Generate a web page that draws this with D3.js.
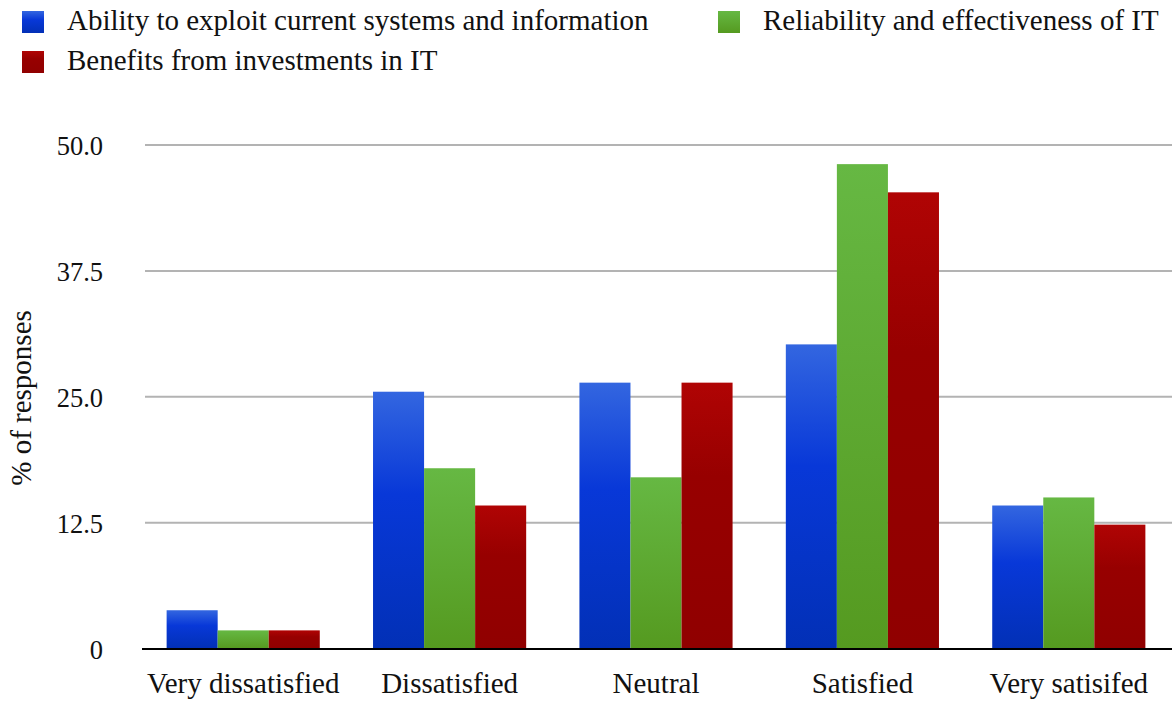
<!DOCTYPE html>
<html>
<head>
<meta charset="utf-8">
<script src="https://cdn.jsdelivr.net/npm/d3@7"></script>
<style>
  html, body { margin: 0; padding: 0; background: #fff; }
  svg { display: block; font-family: "Liberation Serif", "DejaVu Serif", serif; }
</style>
</head>
<body>
<svg id="chart" width="1172" height="702"></svg>
<script>
// Survey responses: satisfaction with IT (% of responses)
const categories = ["Very dissatisfied", "Dissatisfied", "Neutral", "Satisfied", "Very satisifed"];
const seriesNames = [
  "Ability to exploit current systems and information",
  "Reliability and effectiveness of IT",
  "Benefits from investments in IT"
];
const abilityValues     = [3.8, 25.5, 26.4, 30.2, 14.2];
const reliabilityValues = [1.8, 17.9, 17.0, 48.1, 15.0];
const benefitsValues    = [1.8, 14.2, 26.4, 45.3, 12.3];
const yTicks = [0, 12.5, 25, 37.5, 50];
const yTickLabels = ["0", "12.5", "25.0", "37.5", "50.0"];
const yTitle = "% of responses";

const seriesValues = [abilityValues, reliabilityValues, benefitsValues];
const seriesKeys = ["blue", "green", "red"];

const svg = d3.select("#chart");

// Vertical gradients per series (light top, deeper bottom)
const defs = svg.append("defs");
const gradients = {
  blue:  [["0%", "#3366e0"], ["40%", "#0838d8"], ["100%", "#0230b6"]],
  green: [["0%", "#66b843"], ["100%", "#559a20"]],
  red:   [["0%", "#b00404"], ["35%", "#970000"], ["100%", "#900000"]]
};
Object.entries(gradients).forEach(([key, stops]) => {
  const g = defs.append("linearGradient")
    .attr("id", "grad-" + key)
    .attr("x1", 0).attr("y1", 0).attr("x2", 0).attr("y2", 1);
  stops.forEach(([off, col]) => g.append("stop").attr("offset", off).attr("stop-color", col));
});

const plotLeft = 140, plotRight = 1172, plotTop = 145, plotBottom = 648.5;
const textColor = "#111";

const x = d3.scaleBand().domain(categories).range([plotLeft, plotRight]).paddingInner(0).paddingOuter(0);
const inner = d3.scaleBand().domain(d3.range(3))
  .range([x.bandwidth() * 0.129, x.bandwidth() * (1 - 0.129)]).padding(0);
const y = d3.scaleLinear().domain([0, 50]).range([plotBottom, plotTop]);

// Gridlines
svg.append("g").selectAll("line")
  .data(yTicks.filter(t => t > 0))
  .join("line")
  .attr("x1", 145).attr("x2", plotRight)
  .attr("y1", d => y(d)).attr("y2", d => y(d))
  .attr("stroke", "#b3b3b3").attr("stroke-width", 2);

// Y tick labels
const yAxis = d3.axisLeft(y).tickValues(yTicks).tickSize(0).tickPadding(0)
  .tickFormat((d, i) => yTickLabels[i]);
const yAxisG = svg.append("g").attr("transform", "translate(103,0)").call(yAxis);
yAxisG.select(".domain").remove();
yAxisG.selectAll("text")
  .attr("font-size", 26.5).attr("fill", textColor)
  .attr("font-family", "Liberation Serif, serif")
  .attr("dy", "0.36em");

// Bars
const groups = svg.append("g").selectAll("g")
  .data(categories)
  .join("g")
  .attr("transform", d => `translate(${x(d)},0)`);
groups.selectAll("rect")
  .data((c, ci) => seriesValues.map((vals, si) => ({ si, v: vals[ci] })))
  .join("rect")
  .attr("x", d => inner(d.si))
  .attr("width", inner.bandwidth())
  .attr("y", d => y(d.v))
  .attr("height", d => y(0) - y(d.v))
  .attr("fill", d => `url(#grad-${seriesKeys[d.si]})`);

// Baseline
svg.append("line")
  .attr("x1", 142).attr("x2", plotRight)
  .attr("y1", y(0) + 0.5).attr("y2", y(0) + 0.5)
  .attr("stroke", "#000").attr("stroke-width", 2.2);

// X axis labels
const xAxis = d3.axisBottom(x).tickSize(0).tickPadding(0);
const xAxisG = svg.append("g").attr("transform", "translate(0,693)").call(xAxis);
xAxisG.select(".domain").remove();
xAxisG.selectAll("text")
  .attr("font-size", 29).attr("fill", textColor)
  .attr("font-family", "Liberation Serif, serif")
  .attr("y", 0).attr("dy", 0);

// Y axis title
svg.append("text")
  .attr("transform", "translate(31,398) rotate(-90)")
  .attr("text-anchor", "middle")
  .attr("font-size", 29).attr("fill", textColor)
  .text(yTitle);

// Legend
const legendItems = [
  { name: seriesNames[0], key: "blue",  x: 22,  y: 11 },
  { name: seriesNames[1], key: "green", x: 718, y: 11 },
  { name: seriesNames[2], key: "red",   x: 22,  y: 51 }
];
const legend = svg.append("g").selectAll("g")
  .data(legendItems)
  .join("g")
  .attr("transform", d => `translate(${d.x},${d.y})`);
legend.append("rect")
  .attr("width", 22).attr("height", 22)
  .attr("fill", d => `url(#grad-${d.key})`);
legend.append("text")
  .attr("x", 45).attr("y", 19)
  .attr("font-size", 29).attr("fill", textColor)
  .text(d => d.name);
</script>
</body>
</html>
